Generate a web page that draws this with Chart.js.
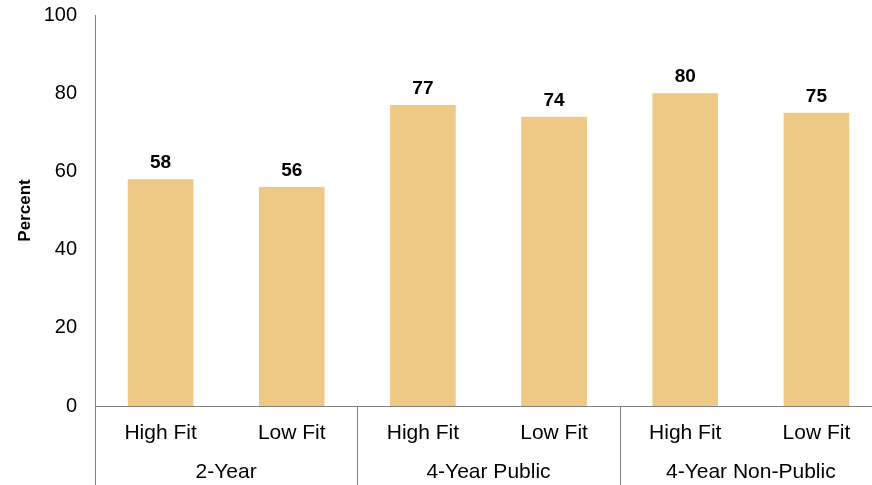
<!DOCTYPE html>
<html>
<head>
<meta charset="utf-8">
<script src="https://cdn.jsdelivr.net/npm/chart.js@4/dist/chart.umd.min.js"></script>
<style>
  html, body { margin: 0; padding: 0; background: #fff; overflow: hidden; }
  #wrap { width: 882px; height: 485px; }
</style>
</head>
<body>
<div id="wrap"><canvas id="chart" width="882" height="485"></canvas></div>
<script>
// Datos del gráfico
const categories = ['High Fit', 'Low Fit', 'High Fit', 'Low Fit', 'High Fit', 'Low Fit'];
const groups = ['2-Year', '4-Year Public', '4-Year Non-Public'];
const percentValues = [58, 56, 77, 74, 80, 75];
const yTicks = [0, 20, 40, 60, 80, 100];

const FONT = "'Liberation Sans', Arial, Helvetica, sans-serif";

// Plugin para etiquetas de valores, separadores, grupos y título del eje
const extras = {
  id: 'extras',
  afterDraw(chart) {
    const ctx = chart.ctx;
    const x = chart.scales.x;
    const area = chart.chartArea;
    const meta = chart.getDatasetMeta(0);

    // Etiquetas de valores sobre las barras
    ctx.save();
    ctx.font = 'bold 19px ' + FONT;
    ctx.fillStyle = '#000';
    ctx.textAlign = 'center';
    ctx.textBaseline = 'alphabetic';
    meta.data.forEach((bar, i) => {
      ctx.fillText(String(percentValues[i]), bar.x, bar.y - 11);
    });
    ctx.restore();

    // Separadores de grupo
    const step = x.getPixelForValue(1) - x.getPixelForValue(0);
    ctx.save();
    ctx.strokeStyle = '#808080';
    ctx.lineWidth = 1;
    for (let g = 0; g <= groups.length; g++) {
      const px = Math.round(x.getPixelForValue(g * 2) - step / 2) + 0.5;
      ctx.beginPath();
      ctx.moveTo(px, area.bottom);
      ctx.lineTo(px, chart.height);
      ctx.stroke();
    }
    ctx.restore();

    // Etiquetas de grupo
    ctx.save();
    ctx.font = '21px ' + FONT;
    ctx.fillStyle = '#000';
    ctx.textAlign = 'center';
    ctx.textBaseline = 'middle';
    groups.forEach((g, i) => {
      const cx = (x.getPixelForValue(i * 2) + x.getPixelForValue(i * 2 + 1)) / 2;
      ctx.fillText(g, cx, 472);
    });
    ctx.restore();

    // Título del eje Y
    ctx.save();
    ctx.font = 'bold 17px ' + FONT;
    ctx.fillStyle = '#000';
    ctx.textAlign = 'center';
    ctx.textBaseline = 'middle';
    ctx.translate(25, (area.top + area.bottom) / 2);
    ctx.rotate(-Math.PI / 2);
    ctx.fillText('Percent', 0, 0);
    ctx.restore();
  }
};

new Chart(document.getElementById('chart').getContext('2d'), {
  type: 'bar',
  data: {
    labels: categories,
    datasets: [{
      data: percentValues,
      backgroundColor: '#EDC985',
      borderWidth: 0,
      barPercentage: 0.5,
      categoryPercentage: 1.0
    }]
  },
  options: {
    responsive: false,
    animation: false,
    layout: { padding: { top: 15, right: 0, left: 0, bottom: 0 } },
    plugins: { legend: { display: false }, tooltip: { enabled: false } },
    scales: {
      x: {
        grid: { display: false, drawTicks: false },
        border: { display: true, color: '#808080', width: 1 },
        ticks: {
          color: '#000',
          font: { family: FONT, size: 21 },
          padding: 15,
          maxRotation: 0,
          autoSkip: false
        },
        afterFit(scale) {
          scale.height = 79;
          scale.paddingLeft = 0;
          scale.paddingRight = 0;
        }
      },
      y: {
        min: 0,
        max: 100,
        afterBuildTicks(scale) { scale.ticks = yTicks.map(v => ({ value: v })); },
        grid: { display: false, drawTicks: false },
        border: { display: true, color: '#808080', width: 1 },
        ticks: {
          color: '#000',
          font: { family: FONT, size: 20 },
          padding: 18
        },
        afterFit(scale) {
          scale.width = 95;
          scale.paddingTop = 0;
          scale.paddingBottom = 0;
        }
      }
    }
  },
  plugins: [extras]
});
</script>
</body>
</html>
